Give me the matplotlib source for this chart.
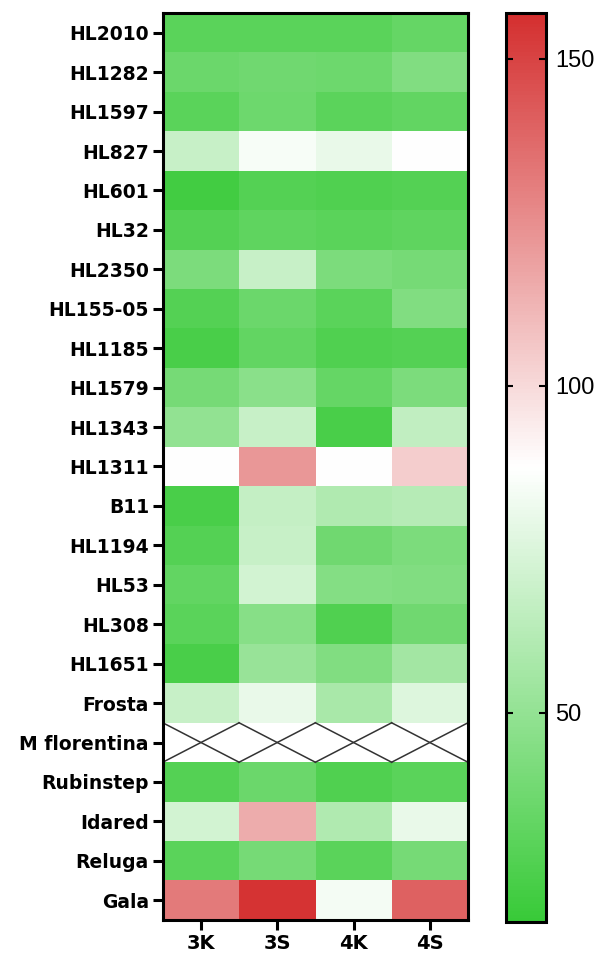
import numpy as np
import matplotlib.pyplot as plt
from matplotlib.colors import LinearSegmentedColormap

rows = ['HL2010', 'HL1282', 'HL1597', 'HL827', 'HL601', 'HL32', 'HL2350',
        'HL155-05', 'HL1185', 'HL1579', 'HL1343', 'HL1311', 'B11', 'HL1194',
        'HL53', 'HL308', 'HL1651', 'Frosta', 'M florentina', 'Rubinstep',
        'Idared', 'Reluga', 'Gala']
cols = ['3K', '3S', '4K', '4S']

# values per column (read by colour)
v3K = [30, 36, 30, 68, 22, 28, 42, 28, 24, 40, 50, 88, 24, 28, 33, 30, 24, 68, np.nan, 28, 72, 30, 132]
v3S = [30, 38, 37, 85, 28, 32, 68, 36, 33, 47, 68, 122, 67, 68, 72, 46, 52, 80, np.nan, 36, 115, 40, 155]
v4K = [30, 37, 31, 80, 27, 30, 42, 30, 27, 34, 24, 88, 60, 38, 45, 27, 44, 58, np.nan, 27, 60, 30, 84]
v4S = [34, 44, 33, 87, 28, 32, 40, 44, 28, 42, 66, 104, 62, 42, 44, 38, 56, 76, np.nan, 30, 80, 40, 140]

cbar_ticks = [50, 100, 150]
vmin, vmax = 18, 157

data = np.array([v3K, v3S, v4K, v4S]).T
cmap = LinearSegmentedColormap.from_list('gwr', ['#38ca38', '#ffffff', '#d42f2f'])

fig = plt.figure(figsize=(6.03, 9.63), dpi=100)
ax = fig.add_axes([0.270, 0.0447, 0.506, 0.9418])
cax = fig.add_axes([0.839, 0.0426, 0.066, 0.9439])

im = ax.imshow(np.ma.masked_invalid(data), cmap=cmap, vmin=vmin, vmax=vmax,
               aspect='auto', interpolation='nearest')

# missing cells: white with an X
for i, j in zip(*np.where(np.isnan(data))):
    ax.plot([j - 0.5, j + 0.5], [i - 0.5, i + 0.5], color='#333333', lw=1.1)
    ax.plot([j - 0.5, j + 0.5], [i + 0.5, i - 0.5], color='#333333', lw=1.1)

ax.set_xlim(-0.5, len(cols) - 0.5)
ax.set_ylim(len(rows) - 0.5, -0.5)
ax.set_xticks(range(len(cols)))
ax.set_xticklabels(cols, fontweight='bold', fontsize=14)
ax.set_yticks(range(len(rows)))
ax.set_yticklabels(rows, fontweight='bold', fontsize=13.5)
ax.tick_params(length=7, width=2.2, pad=3)
for s in ax.spines.values():
    s.set_linewidth(2.2)

cb = fig.colorbar(im, cax=cax, ticks=cbar_ticks)
cb.outline.set_linewidth(2.2)
cax.tick_params(axis='y', which='both', direction='in', left=True, right=True,
                length=5, width=1.5, pad=7)
for t in cax.get_yticklabels():
    t.set_fontfamily('Liberation Sans')
    t.set_fontsize(17)

fig.savefig('out.png', dpi=100)
